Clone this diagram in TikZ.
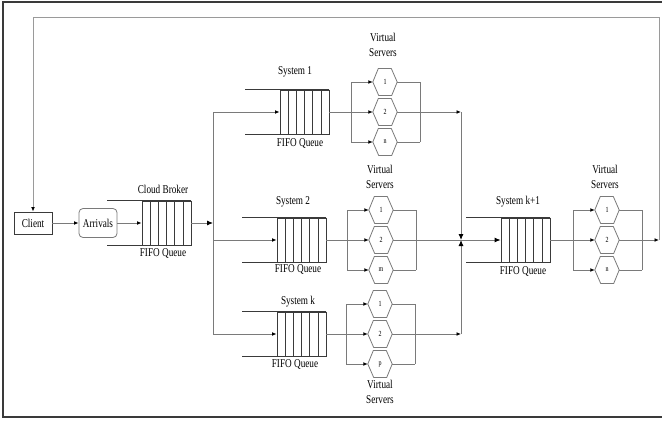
\documentclass[tikz,border=0pt]{standalone}
\usepackage{fontspec}
\setmainfont{Liberation Serif}
\usepackage{graphicx}
\usetikzlibrary{arrows.meta,calc}
\newcommand\tall[1]{\scalebox{1}[1.3]{#1}}
\definecolor{ln}{HTML}{7A7A7A}
\definecolor{dk}{HTML}{3A3A3A}
\definecolor{fb}{HTML}{9A9A9A}
\tikzset{
  conn/.style={draw=ln, line width=0.9pt},
  arr/.style={conn, -{Latex[length=4.5pt,width=3.8pt,color=black]}},
  bigarr/.style={conn, -{Latex[length=6pt,width=5pt,color=black]}},
  fback/.style={draw=fb, line width=1pt},
  fbarr/.style={fback, -{Latex[length=4.5pt,width=3.8pt,color=black]}},
  myframe/.style={draw=dk, line width=1.5pt},
  qcells/.style={draw=dk, line width=0.8pt, minimum width=49pt, minimum height=44pt, inner sep=0pt},
  qline/.style={draw=dk, line width=0.8pt},
  hexl/.style={minimum width=24pt, minimum height=27pt, inner sep=0pt, font=\fontsize{6}{7}\selectfont},
  hexd/.style={draw=ln, line width=0.8pt},
  lbl/.style={inner sep=0pt, font=\fontsize{9.2}{10}\selectfont},
  vlbl/.style={inner sep=0pt, align=center, font=\fontsize{9.2}{15}\selectfont},
  cbox/.style={draw=dk, line width=0.8pt, minimum width=38pt, minimum height=22pt, inner sep=0pt, font=\fontsize{9.2}{10}\selectfont},
  rbox/.style={draw=ln, line width=0.8pt, rounded corners=4pt, minimum width=38pt, minimum height=29pt, inner sep=0pt, font=\fontsize{9.2}{10}\selectfont}
}
\newcommand\fifoq[3]{%
  \node[qcells] (#1) at (#2+24.5,#3) {};
  \foreach \qi in {1,...,5}{\draw[qline] ($(#1.north west)!\qi/6!(#1.north east)$) -- ($(#1.south west)!\qi/6!(#1.south east)$);}
  \draw[qline] (#1.north east) -- ++(-84,0);
  \draw[qline] (#1.south east) -- ++(-84,0);
}
\newcommand\vsrv[4]{%
  \coordinate (#1b) at (#2,#3);
  \coordinate (#1e) at (#2+69,#3);
  \node[hexl] (#1h1) at (#2+34,#3-30) {\tall{1}};
  \node[hexl] (#1h2) at (#2+34,#3) {\tall{2}};
  \node[hexl] (#1h3) at (#2+34,#3+30) {\tall{#4}};
  \foreach \qh in {1,2,3}{\draw[hexd] (#1h\qh.west) -- ++(5.5,-13.5) -- ++(13,0) -- (#1h\qh.east) -- ++(-5.5,13.5) -- ++(-13,0) -- cycle;}
  \draw[conn] (#1b |- #1h1) -- (#1b |- #1h3);
  \draw[conn] (#1e |- #1h1) -- (#1e |- #1h3);
  \foreach \qh in {1,2,3}{\draw[arr] (#1b |- #1h\qh) -- (#1h\qh.west); \draw[conn] (#1h\qh.east) -- (#1e |- #1h\qh);}
}
\begin{document}
\begin{tikzpicture}[x=1pt,y=-1pt]
\useasboundingbox (0,0) rectangle (662,423);
\draw[myframe] (663,2) -- (3,2) -- (3,417) -- (663,417);
% client side
\node[cbox] (client) at (33,223) {\tall{Client}};
\node[rbox] (arrv) at (98,223) {\tall{Arrivals}};
\fifoq{cb}{142}{223}
\node[lbl] (cbt) at (163,189) {\tall{Cloud Broker}};
\node[lbl] (cbf) at (163,254) {\tall{FIFO Queue}};
\draw[arr] (client) -- (arrv);
\draw[arr] (arrv) -- (cb.west);
% systems
\fifoq{sa}{280}{112}
\node[lbl] (sat) at (295,72) {\tall{System 1}};
\node[lbl] (saf) at (300,144) {\tall{FIFO Queue}};
\vsrv{va}{351}{112}{n}
\node[vlbl] (vat) at (383,45) {\tall{Virtual}\\\tall{Servers}};
\fifoq{sb}{277}{240}
\node[lbl] (sbt) at (293,202) {\tall{System 2}};
\node[lbl] (sbf) at (298,270) {\tall{FIFO Queue}};
\vsrv{vb}{347}{240}{m}
\node[vlbl] (vbt) at (380,177) {\tall{Virtual}\\\tall{Servers}};
\fifoq{sk}{277}{334}
\node[lbl] (skt) at (298,302) {\tall{System k}};
\node[lbl] (skf) at (295,365) {\tall{FIFO Queue}};
\vsrv{vk}{346}{334}{p}
\node[vlbl] (vkt) at (380,392) {\tall{Virtual}\\\tall{Servers}};
\fifoq{sq}{501}{240}
\node[lbl] (sqt) at (518,202) {\tall{System k+1}};
\node[lbl] (sqf) at (523,272) {\tall{FIFO Queue}};
\vsrv{vq}{573}{240}{n}
\node[vlbl] (vqt) at (605,177) {\tall{Virtual}\\\tall{Servers}};
% left junction
\coordinate (ja) at (213,112);
\coordinate (jk) at (213,334);
\coordinate (jc) at (213,223);
\draw[bigarr] (cb.east) -- (jc);
\draw[conn] (ja) -- (jk);
\draw[arr] (ja) -- (sa.west);
\draw[arr] (ja |- sb.west) -- (sb.west);
\draw[arr] (jk) -- (sk.west);
\draw[conn] (sa.east) -- (vab);
\draw[conn] (sb.east) -- (vbb);
\draw[conn] (sk.east) -- (vkb);
\draw[conn] (sq.east) -- (vqb);
% right junction
\coordinate (ra) at (461,112);
\coordinate (rk) at (461,334);
\coordinate (rm) at (461,240);
\draw[arr] (vae) -- (ra);
\draw[bigarr] (ra) -- (rm);
\draw[arr] (vke) -- (rk);
\draw[bigarr] (rk) -- (rm);
\draw[conn] (vbe) -- (rm);
\draw[bigarr] (rm) -- (sq.west);
% feedback
\coordinate (fo) at (659,240);
\coordinate (ft) at (659,17);
\coordinate (fl) at (33,17);
\draw[arr] (vqe) -- (fo);
\draw[fbarr] (fo) -- (ft) -- (fl) -- (client.north);
\end{tikzpicture}
\end{document}
